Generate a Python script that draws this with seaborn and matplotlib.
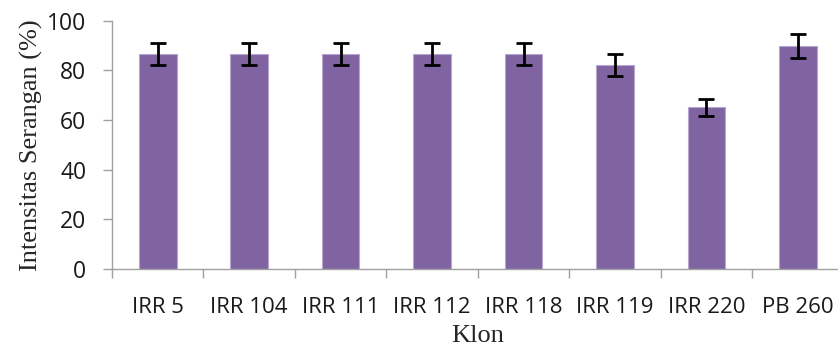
import numpy as np
import pandas as pd
import seaborn as sns
from matplotlib import pyplot as plt

# Data
klon = ['IRR 5', 'IRR 104', 'IRR 111', 'IRR 112', 'IRR 118', 'IRR 119', 'IRR 220', 'PB 260']
intensitas = [86.7, 86.7, 86.7, 86.7, 86.7, 82.2, 65.2, 90.0]
galat = [4.4, 4.4, 4.4, 4.4, 4.4, 4.3, 3.5, 4.8]

df = pd.DataFrame({'Klon': klon, 'Intensitas': intensitas, 'Galat': galat})

sns.set_theme(style="white")
fig = plt.figure(figsize=(8.38, 3.53), dpi=100)
ax = fig.add_axes([0.1337, 0.238, 0.873, 0.703])

sns.barplot(x='Klon', y='Intensitas', data=df, color='#8064A2', saturation=1,
            width=0.41, edgecolor='#B7A6CF', linewidth=0.8, errorbar=None, ax=ax)
ax.errorbar(np.arange(len(klon)), df['Intensitas'], yerr=df['Galat'], fmt='none',
            ecolor='black', elinewidth=2, capsize=5.5, capthick=2)

ax.set_ylim(0, 100)
ax.set_xlim(-0.5, 7.5)
ax.set_yticks([0, 20, 40, 60, 80, 100])
ax.set_xticks(np.arange(len(klon)))
ax.set_xticks(np.arange(len(klon) + 1) - 0.5, minor=True)
ax.tick_params(axis='x', which='major', length=0, pad=20, labelsize=16, colors='#1a1a1a')
ax.tick_params(axis='x', which='minor', length=6.5, width=1, color='#A0A0A0', direction='out', bottom=True)
ax.tick_params(axis='y', length=6.5, width=1, color='#A0A0A0', direction='out', left=True,
               labelsize=16.5, labelcolor='#1a1a1a', pad=12)
for lbl in ax.get_xticklabels() + ax.get_yticklabels():
    lbl.set_family('Open Sans')

for s in ['top', 'right']:
    ax.spines[s].set_visible(False)
for s in ['left', 'bottom']:
    ax.spines[s].set_color('#A0A0A0')
    ax.spines[s].set_linewidth(1)

ax.set_xlabel('Klon', family='Liberation Serif', fontsize=19, labelpad=5)
ax.set_ylabel('Intensitas Serangan (%)', family='Liberation Serif', fontsize=19, labelpad=3)

plt.savefig('out.png', dpi=100)
